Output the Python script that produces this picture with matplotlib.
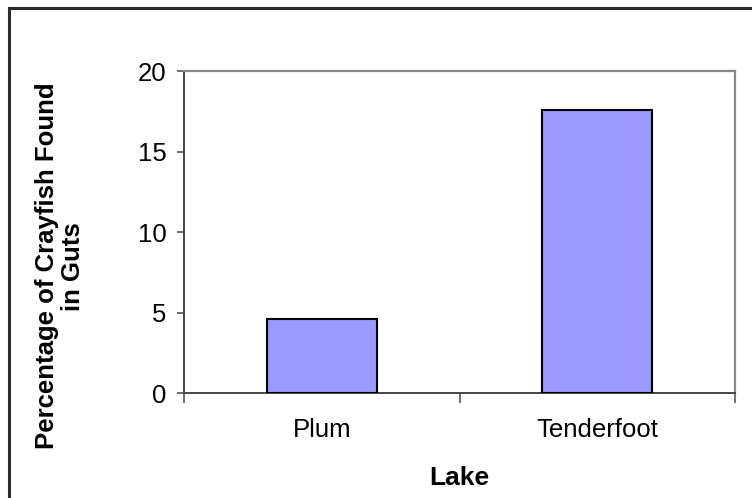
import matplotlib
matplotlib.use("Agg")
import matplotlib.pyplot as plt
from matplotlib.lines import Line2D
from matplotlib.ticker import FixedLocator, NullFormatter

plt.rcParams["font.family"] = ["Liberation Sans", "DejaVu Sans"]

# ── Data ──────────────────────────────────────────────────────────────────────
lakes = ["Plum", "Tenderfoot"]
pct_crayfish = [4.6, 17.6]
y_ticks = [0, 5, 10, 15, 20]

# ── Figure ────────────────────────────────────────────────────────────────────
fig = plt.figure(figsize=(7.52, 4.98), dpi=100)
fig.patch.set_facecolor("white")

# chart-area border (top and left edges only)
fig.add_artist(Line2D([0.0115, 1.0], [0.984, 0.984], transform=fig.transFigure,
                      color="#2b2b2b", lw=2.2))
fig.add_artist(Line2D([0.0115, 0.0115], [0.0, 0.984], transform=fig.transFigure,
                      color="#2b2b2b", lw=2.2))

ax = fig.add_axes([0.2447, 0.2108, 0.7327, 0.6466])

x = list(range(len(lakes)))
ax.bar(x, pct_crayfish, width=0.4, color="#9999FF", edgecolor="black",
       linewidth=1.5, zorder=3)

ax.set_xlim(-0.5, len(lakes) - 0.5)
ax.set_ylim(0, 20)
ax.set_yticks(y_ticks)

# category separators as major ticks, labels on minor ticks at bar centres
ax.xaxis.set_major_locator(FixedLocator([i - 0.5 for i in range(len(lakes) + 1)]))
ax.xaxis.set_major_formatter(NullFormatter())
ax.xaxis.set_minor_locator(FixedLocator(x))
ax.set_xticklabels(lakes, minor=True)

ax.tick_params(axis="y", direction="out", length=5, width=1.2, color="#555555",
               labelsize=18.5, pad=7.5)
ax.tick_params(axis="x", which="major", direction="out", length=7, width=1.2,
               color="#555555")
ax.tick_params(axis="x", which="minor", length=0, labelsize=18.5, pad=18)

for side in ("top", "right"):
    ax.spines[side].set_color("#888888")
    ax.spines[side].set_linewidth(1.6)
for side in ("left", "bottom"):
    ax.spines[side].set_color("#444444")
    ax.spines[side].set_linewidth(1.4)

ax.set_xlabel("Lake", fontsize=19, fontweight="bold", labelpad=17)
ax.set_ylabel("Percentage of Crayfish Found\nin Guts", fontsize=18.5,
              fontweight="bold", linespacing=1.08)
ax.yaxis.set_label_coords(-0.18, 0.394)

fig.savefig("out.png", dpi=100)
plt.close(fig)
